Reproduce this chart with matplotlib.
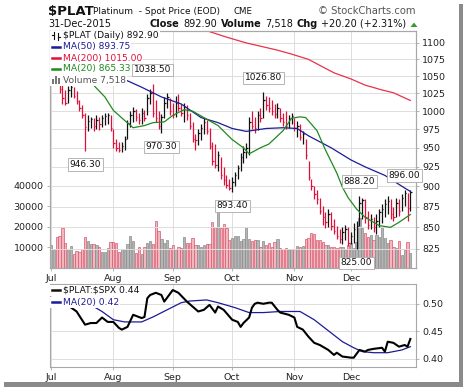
import numpy as np
import pandas as pd
import matplotlib
matplotlib.use("Agg")
import matplotlib.pyplot as plt
from matplotlib.lines import Line2D
from matplotlib.patches import Rectangle, Polygon

# trading days Jul-Dec 2015
dates = pd.bdate_range("2015-07-01", "2015-12-31", freq="C",
                       holidays=["2015-07-03", "2015-09-07", "2015-11-26", "2015-12-25"])
month_labels = ["Jul", "Aug", "Sep", "Oct", "Nov", "Dec"]

prev_close = 1065.0  # close of 30-Jun
highs = [1085, 1086, 1078, 1060, 1038, 1030, 1036, 1038, 1035, 1028,
         1016, 1008, 998, 994, 992, 990, 994, 992, 995, 997,
         998, 994, 975, 962, 958, 958, 966, 988, 1000, 1006,
         1003, 998, 1005, 1002, 1024, 1032, 1038.5, 1015, 1000, 996,
         1020, 1026, 1018, 1012, 1022, 1024, 1010, 1012, 1008, 998,
         985, 968, 975, 982, 990, 988, 976, 958, 955, 946,
         938, 925, 915, 910, 912, 918, 927, 943, 953, 956,
         992, 1000, 992, 1000, 1005, 1026.8, 1022, 1020, 1015, 1010,
         1012, 1005, 998, 1000, 995, 998, 990, 986, 982, 972,
         962, 932, 910, 900, 895, 885, 876, 868, 872, 868,
         860, 852, 848, 850, 853, 850, 845, 855, 858, 888.2,
         886, 884, 870, 866, 862, 866, 872, 878, 884, 888,
         884, 875, 885, 884, 890, 896, 892, 895]
lows = [1066, 1068, 1050, 1025, 1010, 1008, 1012, 1020, 1018, 1010,
        1000, 990, 946.3, 972, 976, 972, 975, 974, 978, 981,
        982, 972, 950, 946, 944, 945, 947, 962, 978, 985,
        986, 982, 982, 986, 995, 1010, 992, 985, 975, 970.3,
        990, 1004, 995, 990, 992, 1000, 993, 985, 988, 975,
        958, 947, 954, 960, 968, 968, 948, 927, 924, 920,
        910, 902, 898, 895, 893.4, 900, 910, 920, 930, 936,
        940, 975, 970, 974, 985, 990, 1002, 999, 994, 991,
        990, 985, 980, 975, 977, 982, 972, 965, 960, 955,
        935, 908, 895, 884, 878, 866, 853, 849, 850, 847,
        842, 836, 832, 830, 835, 828, 830, 832, 825, 852,
        860, 855, 848, 848, 845, 842, 850, 855, 862, 866,
        860, 857, 862, 864, 870, 876, 857, 870]
closes = [1072, 1078, 1055, 1032, 1018, 1012, 1030, 1034, 1022, 1014,
          1004, 994, 978, 986, 989, 980, 988, 982, 990, 993,
          995, 976, 956, 950, 947, 953, 962, 984, 994, 1000,
          992, 987, 998, 990, 1018, 1026, 998, 990, 979, 992,
          1012, 1020, 1000, 995, 1012, 1005, 998, 1006, 994, 980,
          962, 960, 970, 976, 985, 972, 952, 932, 928, 940,
          915, 908, 902, 898, 906, 914, 924, 938, 945, 950,
          985, 980, 976, 995, 990, 1016, 1008, 1004, 1000, 996,
          1005, 990, 985, 980, 990, 993, 976, 980, 965, 968,
          940, 912, 900, 890, 884, 870, 862, 856, 866, 852,
          846, 840, 836, 845, 848, 832, 840, 848, 852, 880,
          883, 862, 853, 860, 850, 858, 868, 872, 878, 882,
          866, 862, 880, 870, 886, 892, 872.7, 892.9]
volume = [11200, 8800, 15000, 15600, 19400, 12300, 9100, 10700, 6800, 8300,
          7800, 9300, 15000, 13200, 11700, 11700, 11200, 10400, 7600, 8000,
          9800, 12700, 12700, 12300, 7800, 9300, 8800, 11700, 15600, 13200,
          7200, 10400, 6800, 10400, 12300, 13200, 11700, 22900, 18000, 14100,
          12000, 13600, 9600, 11200, 9100, 10400, 9900, 15300, 12000, 12000,
          14500, 11100, 11200, 10400, 11200, 11600, 11600, 22300, 19900, 31900,
          19400, 21300, 19400, 13600, 14500, 15600, 15600, 13300, 14000, 19400,
          14000, 13200, 13600, 13600, 10400, 13200, 11200, 12000, 10100, 12800,
          14000, 9600, 9100, 9600, 8800, 9100, 9100, 10700, 10400, 10700,
          14000, 14500, 17200, 16600, 13600, 13600, 12800, 11200, 11200, 10400,
          10400, 9600, 10400, 10400, 9100, 11200, 12000, 9600, 12800, 24200,
          19400, 16900, 15300, 16100, 13600, 16100, 15300, 20100, 14500, 12000,
          13600, 10400, 9600, 13200, 6300, 8800, 12800, 7518]

# moving averages (trading-day index, value)
ma20_days = [15, 19, 22, 26, 29, 33, 36, 40, 43, 47, 50, 54, 59, 64, 68, 70,
             74, 77, 82, 85, 88, 90, 94, 97, 101, 103, 105, 108, 111, 116, 120, 123, 127]
ma20_vals = [1037, 1020, 1001, 987, 977, 980, 984, 985, 994, 1002, 1000,
             991, 980, 961, 950, 942, 950, 955, 973, 990, 992, 991, 973, 947, 917, 899,
             886, 872, 862, 852, 850, 856, 865.33]
ma50_days = [25, 32, 39, 46, 53, 59, 64, 69, 76, 82, 87, 91, 99, 106, 111, 118, 125, 127]
ma50_vals = [1047, 1034, 1020, 1010, 991, 984, 976, 972, 976, 977, 976, 966, 950,
             934, 925, 914, 898, 893.75]
ma200_days = [45, 55, 62, 69, 75, 80, 85, 91, 95, 100, 106, 111, 117, 121, 127]
ma200_vals = [1140, 1119, 1109, 1100, 1094, 1089, 1083, 1075, 1066, 1055, 1046, 1037,
              1030, 1026, 1015]

# $PLAT:$SPX ratio and its MA(20)
ratio_days = [6, 9, 12, 14, 16, 18, 20, 22, 24, 25, 27, 29, 32, 33, 34, 35, 37,
              39, 40, 41, 43, 45, 48, 50, 52, 54, 56, 58, 59, 61, 64, 66, 67, 68, 70,
              71, 72, 73, 75, 77, 78, 80, 81, 84, 86, 87, 89, 91, 93, 95, 98, 100, 101,
              103, 106, 107, 109, 111, 112, 114, 117, 118, 119, 121, 123, 125, 126, 127]
ratio_vals = [0.497, 0.486, 0.462, 0.465, 0.465, 0.475, 0.467, 0.467,
              0.456, 0.453, 0.458, 0.480, 0.474, 0.476, 0.510, 0.516, 0.520, 0.516,
              0.504, 0.511, 0.525, 0.520, 0.504, 0.495, 0.486, 0.489, 0.498, 0.484,
              0.495, 0.489, 0.471, 0.467, 0.458, 0.465, 0.475, 0.493, 0.500, 0.502,
              0.500, 0.502, 0.502, 0.489, 0.484, 0.480, 0.475, 0.458, 0.453, 0.440,
              0.429, 0.425, 0.416, 0.407, 0.411, 0.404, 0.402, 0.402, 0.416, 0.413,
              0.416, 0.418, 0.420, 0.413, 0.431, 0.429, 0.422, 0.425, 0.422, 0.436]
ratio_ma_days = [15, 18, 22, 26, 32, 36, 41, 46, 49, 55, 59, 65, 70, 75, 81, 88, 93,
                 99, 103, 107, 110, 114, 119, 124, 127]
ratio_ma_vals = [0.495, 0.486, 0.471, 0.467, 0.467, 0.476, 0.489, 0.502, 0.505,
                 0.507, 0.502, 0.493, 0.484, 0.484, 0.486, 0.486, 0.471, 0.447, 0.431,
                 0.420, 0.413, 0.411, 0.411, 0.416, 0.422]

price_ticks = list(range(825, 1101, 25))
vol_ticks = [10000, 20000, 30000, 40000]
ratio_ticks = [0.40, 0.45, 0.50]

RED = "#e0103a"
NAVY = "#1c1c96"
GREEN = "#1f8a1f"
MA200C = "#e8324a"
GRID = "#dddddd"
FRAME = "#a8a8a8"

W, H = 464, 387
fig = plt.figure(figsize=(W / 100, H / 100), dpi=100)
fig.patch.set_facecolor("white")
fx = lambda px: px / W
fy = lambda py: 1 - py / H

n = len(closes)
days = np.arange(n)
month_idx = [int(np.argmax(dates.month == m)) for m in range(7, 13)]
xlim = (-0.4, n + 1.0)

ax_vol = fig.add_axes([fx(50), fy(268), fx(416) - fx(50), fy(30.7) - fy(268)])
ax = ax_vol.twinx()
ax_r = fig.add_axes([fx(50), fy(367), fx(416) - fx(50), fy(284) - fy(367)])

prior = [prev_close] + closes[:-1]
up = [c >= p for c, p in zip(closes, prior)]
bar_cols = ["#111111" if u else RED for u in up]

# volume
vfill = ["#b5b5b5" if u else "#f2b7bf" for u in up]
vedge = ["#8a8a8a" if u else "#d8586e" for u in up]
ax_vol.bar(days, volume, width=0.8, color=vfill, edgecolor=vedge, linewidth=0.5)
ax_vol.set_ylim(0, 115750)
ax_vol.set_yticks(vol_ticks)
ax_vol.set_yticklabels([str(v) for v in vol_ticks])
ax_vol.set_xlim(*xlim)
ax_vol.set_xticks(month_idx)
ax_vol.set_xticklabels(month_labels)
ax_vol.grid(axis="x", color=GRID, lw=0.7)
ax_vol.set_axisbelow(True)

# price bars
ax.set_yscale("log")
ax.set_ylim(803, 1119)
ax.vlines(days, lows, highs, colors=bar_cols, lw=0.9)
ax.hlines(closes, days, days + 0.5, colors=bar_cols, lw=0.9)
ax.plot(ma200_days, ma200_vals, color=MA200C, lw=0.9)
ax.plot(ma50_days, ma50_vals, color=NAVY, lw=0.9)
ax.plot(ma20_days, ma20_vals, color=GREEN, lw=0.9)
ax.set_yticks(price_ticks)
ax.set_yticklabels([str(v) for v in price_ticks])
ax.yaxis.set_minor_locator(matplotlib.ticker.NullLocator())
ax.grid(axis="y", color=GRID, lw=0.7)
ax.set_xlim(*xlim)

# value labels
def tag(i, v, above):
    ax.annotate(f"{v:.2f}", xy=(i, v), xytext=(0, 7 if above else -7),
                textcoords="offset points", ha="center",
                va="bottom" if above else "top", fontsize=6.5, color="#111",
                bbox=dict(boxstyle="square,pad=0.2", fc="white", ec="#aaaaaa", lw=0.6),
                zorder=5)

tag(12, lows[12], False)
tag(36, highs[36], True)
tag(39, lows[39], False)
tag(75, highs[75], True)
tag(64, lows[64], False)
tag(109, highs[109], True)
tag(108, lows[108], False)
tag(125, highs[125], True)

# ratio panel
ax_r.plot(ratio_ma_days, ratio_ma_vals, color=NAVY, lw=0.9)
ax_r.plot(ratio_days, ratio_vals, color="black", lw=1.5)
ax_r.set_xlim(*xlim)
ax_r.set_ylim(0.385, 0.536)
ax_r.yaxis.tick_right()
ax_r.set_yticks(ratio_ticks)
ax_r.set_yticklabels([f"{v:.2f}" for v in ratio_ticks])
ax_r.set_xticks(month_idx)
ax_r.set_xticklabels(month_labels)
ax_r.grid(color=GRID, lw=0.7)
ax_r.set_axisbelow(True)

for a in (ax_vol, ax, ax_r):
    for s in a.spines.values():
        s.set_color(FRAME)
        s.set_linewidth(0.8)
    a.tick_params(labelsize=6.8, colors="#222222", length=2.5, width=0.6, pad=2)
    a.tick_params(axis="both", color=FRAME)

# legends
fig.canvas.draw()
rend = fig.canvas.get_renderer()

def legend_row(y, text, color, kind):
    t = fig.text(fx(63), fy(y), text, fontsize=6.6, color=color, va="center",
                 zorder=6, parse_math=False)
    bb = t.get_window_extent(rend)
    fig.patches.append(Rectangle((fx(50.5), fy(y + 5.5)), fx(bb.x1 + 1) - fx(50.5),
                                 (11 / H), transform=fig.transFigure,
                                 fc="white", ec="none", zorder=4))
    if kind == "line":
        fig.add_artist(Line2D([fx(52), fx(60)], [fy(y), fy(y)], color=color, lw=1.8, zorder=7))
    elif kind == "ohlc":
        fig.add_artist(Line2D([fx(54), fx(54)], [fy(y - 4), fy(y + 3)], color=color, lw=0.8, zorder=7))
        fig.add_artist(Line2D([fx(58), fx(58)], [fy(y - 3), fy(y + 4)], color=color, lw=0.8, zorder=7))
        fig.add_artist(Line2D([fx(52.5), fx(54)], [fy(y - 1), fy(y - 1)], color=color, lw=0.8, zorder=7))
        fig.add_artist(Line2D([fx(58), fx(59.5)], [fy(y + 1), fy(y + 1)], color=color, lw=0.8, zorder=7))
    elif kind == "vol":
        for k, hgt in enumerate([5, 8, 6]):
            fig.patches.append(Rectangle((fx(52.5 + k * 2.6), fy(y + 4)), 2 / W, hgt / H,
                                         transform=fig.transFigure, fc="#777777",
                                         ec="none", zorder=7))

legend_row(36, "$PLAT (Daily) 892.90", "#111111", "ohlc")
legend_row(47, "MA(50) 893.75", NAVY, "line")
legend_row(58, "MA(200) 1015.00", RED, "line")
legend_row(69, "MA(20) 865.33", GREEN, "line")
legend_row(80, "Volume 7,518", "#555555", "vol")
legend_row(290, "$PLAT:$SPX 0.44", "#111111", "line")
legend_row(302, "MA(20) 0.42", NAVY, "line")

# header
fig.text(fx(48), fy(11), "$PLAT", fontsize=9.5, fontweight="bold", va="center",
         color="#111", parse_math=False)
fig.text(fx(93), fy(11), "Platinum  - Spot Price (EOD)", fontsize=6.5, va="center", color="#111")
fig.text(fx(233), fy(11), "CME", fontsize=6.2, va="center", color="#111")
fig.text(fx(416), fy(11), "\u00a9 StockCharts.com", fontsize=7.2, va="center", ha="right", color="#555555")
fig.text(fx(48), fy(24), "31-Dec-2015", fontsize=7, va="center", color="#111")

x = 150
for txt, wt in [("Close", "bold"), ("892.90", "normal"), ("Volume", "bold"),
                ("7,518", "normal"), ("Chg", "bold"), ("+20.20 (+2.31%)", "normal")]:
    t = fig.text(fx(x), fy(24), txt, fontsize=7, fontweight=wt, va="center", color="#111")
    bb = t.get_window_extent(rend)
    x = bb.x1 + 3.5
fig.patches.append(Polygon([[fx(x + 1), fy(27)], [fx(x + 8), fy(27)], [fx(x + 4.5), fy(22.5)]],
                           closed=True, transform=fig.transFigure, fc="#3a9a3a", ec="none"))

# drop shadow
fig.patches.append(Rectangle((fx(459), fy(387)), 5 / W, 383 / H, transform=fig.transFigure,
                             fc="#8a8a8a", ec="none"))
fig.patches.append(Rectangle((fx(4), fy(387)), 455 / W, 5 / H, transform=fig.transFigure,
                             fc="#8a8a8a", ec="none"))

fig.savefig("out.png", dpi=100)
